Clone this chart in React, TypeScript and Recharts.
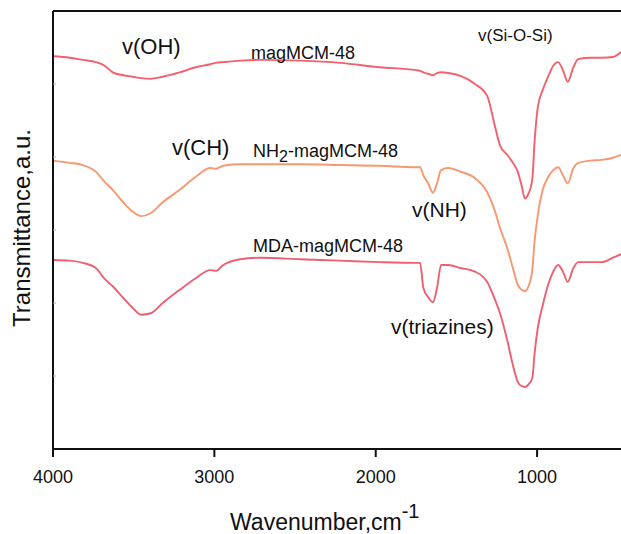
import { LineChart, Line, XAxis, YAxis, ReferenceLine } from "recharts"

// FTIR spectra, wavenumber in cm-1 (shared sampling for all three traces)
const wavenumbers = [
  4000, 3895, 3815, 3735, 3680, 3630, 3565, 3505, 3455, 3395, 3320, 3215, 3115, 3025, 2990,
  2945, 2840, 2715, 2470, 2220, 1975, 1750, 1725, 1705, 1675, 1645, 1620, 1595, 1550, 1475,
  1385, 1310, 1260, 1230, 1185, 1150, 1120, 1095, 1075, 1055, 1030, 1015, 995, 965, 930,
  900, 870, 840, 810, 775, 745, 670, 600, 530, 480,
]

// transmittance (a.u., traces stacked with an offset)
const magMCM = [
  5.38, 5.36, 5.33, 5.3, 5.25, 5.16, 5.12, 5.1, 5.08, 5.07, 5.1, 5.16, 5.23, 5.27, 5.29,
  5.3, 5.32, 5.33, 5.32, 5.29, 5.23, 5.19, 5.18, 5.16, 5.14, 5.12, 5.15, 5.16, 5.15, 5.11,
  5.0, 4.84, 4.41, 4.16, 4.03, 3.92, 3.8, 3.6, 3.43, 3.49, 3.69, 4.23, 4.69, 4.92, 5.11,
  5.25, 5.3, 5.19, 5.03, 5.23, 5.34, 5.36, 5.36, 5.37, 5.44,
]

const nh2MagMCM = [
  3.95, 3.92, 3.89, 3.8, 3.66, 3.55, 3.38, 3.25, 3.19, 3.23, 3.38, 3.55, 3.73, 3.85, 3.84,
  3.88, 3.9, 3.9, 3.9, 3.89, 3.88, 3.86, 3.86, 3.75, 3.64, 3.51, 3.64, 3.82, 3.85, 3.8,
  3.71, 3.52, 3.25, 3.03, 2.75, 2.48, 2.25, 2.18, 2.16, 2.22, 2.45, 2.86, 3.21, 3.55, 3.73,
  3.82, 3.86, 3.75, 3.64, 3.85, 3.92, 3.95, 3.96, 3.99, 4.03,
]

const mdaMagMCM = [
  2.59, 2.58, 2.55, 2.48, 2.33, 2.23, 2.07, 1.93, 1.84, 1.86, 2.0, 2.18, 2.34, 2.45, 2.44,
  2.52, 2.6, 2.62, 2.6, 2.58, 2.56, 2.55, 2.55, 2.21, 2.08, 2.01, 2.21, 2.52, 2.52, 2.48,
  2.43, 2.29, 2.04, 1.86, 1.49, 1.15, 0.92, 0.86, 0.85, 0.88, 0.97, 1.32, 1.67, 1.97, 2.26,
  2.43, 2.52, 2.43, 2.29, 2.48, 2.56, 2.56, 2.56, 2.62, 2.67,
]

const xTicks = [4000, 3000, 2000, 1000]
const yTicks = [1, 2, 3, 4, 5]

const data = wavenumbers.map((wn, i) => ({
  wn,
  mag: magMCM[i],
  nh2: nh2MagMCM[i],
  mda: mdaMagMCM[i],
}))

const FONT = "'Liberation Sans', Arial, sans-serif"

export default function App() {
  return (
    <div style={{ position: "fixed", left: 0, top: 0, width: 621, height: 534, background: "#fff" }}>
      <LineChart width={621} height={534} data={data} margin={{ top: 11, right: 0, left: 53, bottom: 0 }}>
        <XAxis
          dataKey="wn"
          type="number"
          domain={[480, 4000]}
          reversed
          allowDataOverflow
          ticks={xTicks}
          height={85}
          tickSize={8}
          tickMargin={13}
          axisLine={{ stroke: "#111", strokeWidth: 2 }}
          tickLine={{ stroke: "#111", strokeWidth: 2 }}
          tick={{ fill: "#111", fontSize: 18, fontFamily: FONT }}
        />
        <YAxis
          type="number"
          domain={[0, 6]}
          ticks={yTicks}
          mirror
          tickSize={3}
          tickFormatter={() => ""}
          axisLine={{ stroke: "#111", strokeWidth: 2 }}
          tickLine={{ stroke: "#aaa", strokeWidth: 1 }}
        />
        <ReferenceLine y={6} stroke="#111" strokeWidth={2} />
        <Line type="monotone" dataKey="mag" stroke="#f4606c" strokeWidth={1.9} dot={false} isAnimationActive={false} />
        <Line type="monotone" dataKey="nh2" stroke="#f89870" strokeWidth={1.9} dot={false} isAnimationActive={false} />
        <Line type="monotone" dataKey="mda" stroke="#ee6070" strokeWidth={1.9} dot={false} isAnimationActive={false} />
      </LineChart>

      {/* band assignments, sample names and axis titles */}
      <svg
        width={621}
        height={534}
        style={{ position: "absolute", left: 0, top: 0, pointerEvents: "none" }}
        fontFamily={FONT}
        fill="#111"
      >
        <text x={122} y={54} fontSize={22}>v(OH)</text>
        <text x={251} y={59} fontSize={18}>magMCM-48</text>
        <text x={478} y={41} fontSize={17}>v(Si-O-Si)</text>
        <text x={172} y={155} fontSize={22}>v(CH)</text>
        <text x={253} y={157} fontSize={18}>
          NH<tspan dy={5} fontSize={16}>2</tspan><tspan dy={-5}>-magMCM-48</tspan>
        </text>
        <text x={412} y={217} fontSize={21}>v(NH)</text>
        <text x={253} y={252} fontSize={18}>MDA-magMCM-48</text>
        <text x={391} y={334} fontSize={21}>v(triazines)</text>
        <text x={30} y={228} fontSize={24} textAnchor="middle" transform="rotate(-90 30 228)">
          Transmittance,a.u.
        </text>
        <text x={230} y={530} fontSize={23}>
          Wavenumber,cm<tspan dy={-12} fontSize={20}>-1</tspan>
        </text>
      </svg>
    </div>
  )
}
